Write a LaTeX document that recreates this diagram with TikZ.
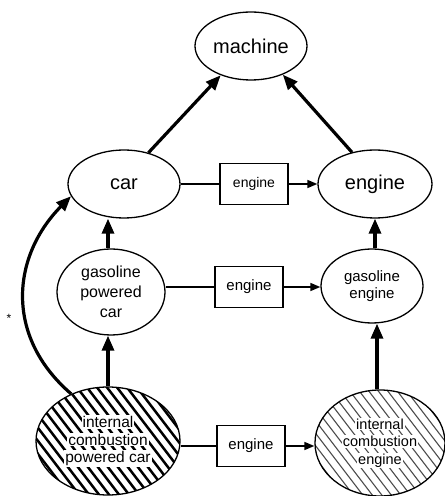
\documentclass[tikz,border=0pt]{standalone}
\usepackage{fontspec}
\setmainfont{Liberation Sans}
\usetikzlibrary{arrows.meta,shapes.geometric}
% white backing behind a line of text on a hatched node
\newcommand\wbg[1]{{\setlength\fboxsep{1pt}\colorbox{white}{#1}}}
\begin{document}
\begin{tikzpicture}[x=1pt,y=1pt,
  concept/.style={ellipse, draw, line width=1.3pt, inner sep=0pt, align=center},
  rolebox/.style={rectangle, draw, line width=1.2pt, inner sep=0pt,
    minimum width=68pt, minimum height=41pt, font=\fontsize{15}{17}\selectfont},
  bigtext/.style={font=\fontsize{20}{22}\selectfont},
  midtext/.style={font=\fontsize{15.5}{19.5}\selectfont},
  isa/.style={line width=3.2pt, -{Triangle[length=15pt,width=12pt]}},
  rel/.style={line width=1.5pt},
  relarr/.style={line width=1.5pt, -{Triangle[length=10pt,width=8pt]}},
  densehatch/.style={path picture={
    \foreach \k in {-16,...,16}{
      \draw[line width=2.5pt]
        ([xshift=\k*10pt]path picture bounding box.center) ++(-65pt,85pt) -- ++(130pt,-170pt);}}},
  lighthatch/.style={path picture={
    \foreach \k in {-16,...,16}{
      \draw[line width=1.1pt, black!70]
        ([xshift=\k*9.5pt]path picture bounding box.center) ++(-65pt,85pt) -- ++(130pt,-170pt);}}}
]
\useasboundingbox (0,0) rectangle (445,496);

% concepts
\node[concept, bigtext, minimum width=112pt, minimum height=68pt] (machine) at (251,450) {machine};
\node[concept, bigtext, minimum width=112pt, minimum height=68pt] (car) at (124,312) {car};
\node[concept, bigtext, minimum width=114pt, minimum height=68pt] (engine) at (375,312) {engine};
\node[concept, font=\fontsize{16}{20}\selectfont, minimum width=108pt, minimum height=86pt] (gpc) at (111,204) {gasoline\\powered\\car};
\node[concept, font=\fontsize{15}{17}\selectfont, minimum width=102pt, minimum height=74pt] (ge) at (372,210) {gasoline\\engine};
\node[concept, densehatch, midtext, minimum width=144pt, minimum height=108pt] (icpc) at (108,55)
  {\wbg{internal}\\[-2pt]\wbg{combustion}\\[-2pt]\wbg{powered car}};
\node[concept, lighthatch, font=\fontsize{14.5}{19.5}\selectfont, minimum width=130pt, minimum height=106pt] (ice) at (380,53)
  {\wbg{internal}\\[-2pt]\wbg{combustion}\\[-2pt]\wbg{engine}};

% relation boxes
\node[rolebox, font=\fontsize{14}{16}\selectfont] (r1) at (254,312) {engine};
\node[rolebox] (r2) at (249,209) {engine};
\node[rolebox] (r3) at (251,50) {engine};

% a small mark at the left margin
\node[font=\fontsize{12}{12}\selectfont, inner sep=0pt] (mark) at (9,178) {*};

% is-a links
\draw[isa] (car.52) -- (machine.224);
\draw[isa] (engine.126) -- (machine.318);
\draw[isa] (gpc.north -| 108,0) -- (car.south -| 108,0);
\draw[isa] (icpc.north) -- (gpc.south -| icpc.north);
\draw[isa] (ge.north -| 375,0) -- (engine.south -| 375,0);
\draw[isa] (ice.north -| 377,0) -- (ge.south -| 377,0);
\draw[isa] (icpc.128) .. controls (4,160) and (12,240) .. (car.193);

% role links
\draw[rel] (car.east) -- (r1.west);
\draw[relarr] (r1.east) -- (engine.west);
\draw[rel] (gpc.east |- r2.west) -- (r2.west);
\draw[relarr] (r2.east) -- (ge.west |- r2.east);
\draw[rel] (icpc.east |- r3.west) -- (r3.west);
\draw[relarr] (r3.east) -- (ice.west |- r3.east);
\end{tikzpicture}
\end{document}
